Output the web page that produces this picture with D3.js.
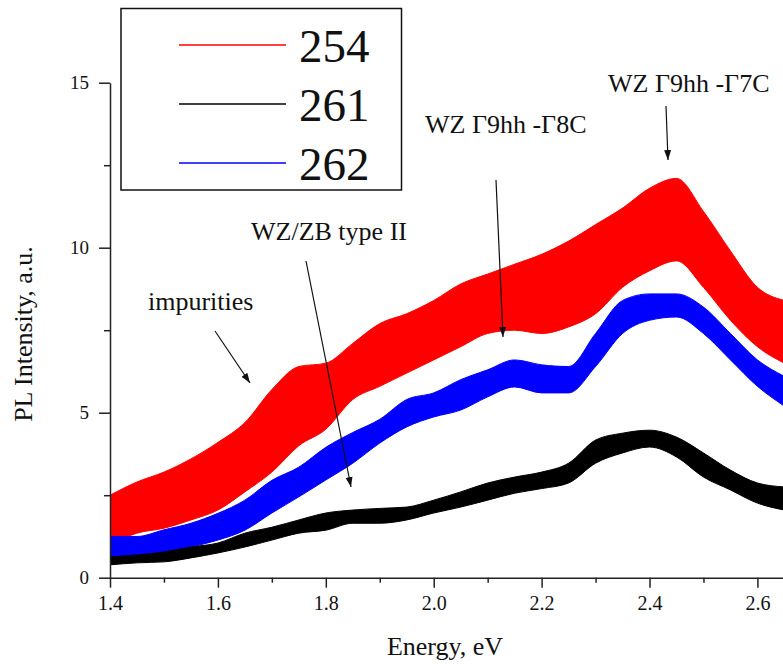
<!DOCTYPE html>
<html>
<head>
  <meta charset="utf-8" />
  <script src="https://cdnjs.cloudflare.com/ajax/libs/d3/7.8.5/d3.min.js"></script>
  <style>
    body { margin: 0; background: #fff; }
    text { font-family: "Liberation Serif", "Times New Roman", serif; fill: #111; }
    .axis path, .axis line { stroke: #222; stroke-width: 1.5; }
    .axis text { font-size: 20px; font-family: "Liberation Serif", serif; }
  </style>
</head>
<body>
  <svg width="783" height="664"></svg>
  <script>
  // energy grid (eV) and the band edges
  const energy = [1.40, 1.45, 1.50, 1.55, 1.60, 1.65, 1.70, 1.75, 1.80, 1.85, 1.90, 1.95, 2.00,
                  2.05, 2.10, 2.15, 2.20, 2.25, 2.30, 2.35, 2.40, 2.45, 2.50, 2.55, 2.60, 2.65];
  const s254High = [2.5, 2.9, 3.2, 3.6, 4.1, 4.7, 5.7, 6.4, 6.5, 7.1, 7.7, 8.0, 8.4,
                    8.9, 9.2, 9.5, 9.8, 10.2, 10.7, 11.2, 11.8, 12.1, 11.1, 9.9, 8.8, 8.4];
  const s254Low  = [1.0, 1.35, 1.5, 1.75, 2.05, 2.6, 3.2, 4.0, 4.5, 5.4, 5.8, 6.2, 6.6,
                    7.0, 7.4, 7.5, 7.4, 7.6, 8.0, 8.8, 9.3, 9.6, 8.8, 7.8, 7.0, 6.5];
  const s262High = [1.25, 1.25, 1.45, 1.65, 1.95, 2.35, 2.95, 3.35, 3.95, 4.4, 4.8, 5.4, 5.6,
                    6.0, 6.3, 6.6, 6.45, 6.4, 7.4, 8.4, 8.6, 8.6, 8.2, 7.4, 6.6, 6.1];
  const s262Low  = [0.55, 0.63, 0.75, 0.93, 1.14, 1.44, 1.96, 2.45, 2.96, 3.47, 4.08, 4.57, 4.87,
                    5.08, 5.48, 5.78, 5.6, 5.6, 6.4, 7.4, 7.8, 7.9, 7.4, 6.6, 5.8, 5.2];
  const s261High = [0.63, 0.69, 0.78, 0.93, 1.05, 1.35, 1.53, 1.75, 1.96, 2.05, 2.1, 2.14, 2.35,
                    2.6, 2.87, 3.05, 3.2, 3.47, 4.17, 4.38, 4.47, 4.26, 3.78, 3.26, 2.87, 2.75];
  const s261Low  = [0.39, 0.45, 0.48, 0.6, 0.75, 0.93, 1.14, 1.35, 1.44, 1.65, 1.65, 1.75, 1.96,
                    2.14, 2.35, 2.56, 2.7, 2.87, 3.47, 3.78, 3.96, 3.66, 3.05, 2.66, 2.26, 2.05];

  const xMajor = [1.4, 1.6, 1.8, 2.0, 2.2, 2.4, 2.6];
  const xMinor = [1.5, 1.7, 1.9, 2.1, 2.3, 2.5];
  const yMajor = [0, 5, 10, 15];
  const yMinor = [2.5, 7.5, 12.5];

  const seriesNames = ["254", "261", "262"];
  const seriesColors = { "254": "#ff0000", "261": "#000000", "262": "#0000ff" };
  const bands = { "254": [s254Low, s254High], "261": [s261Low, s261High], "262": [s262Low, s262High] };
  const drawOrder = ["254", "262", "261"];

  const annotations = [
    { text: "impurities",      x: 148, y: 310 },
    { text: "WZ/ZB type II",   x: 251, y: 240 },
    { text: "WZ  \u03939hh -\u03938C", x: 425, y: 133 },
    { text: "WZ  \u03939hh -\u03937C", x: 608, y: 92 }
  ];
  const arrows = [
    { x1: 215, y1: 331, x2: 250, y2: 383 },
    { x1: 306, y1: 261, x2: 351, y2: 487 },
    { x1: 496, y1: 180, x2: 503, y2: 337 },
    { x1: 666, y1: 106, x2: 668, y2: 160 }
  ];

  const svg = d3.select("svg");
  const x = d3.scaleLinear().domain([1.4, 2.65]).range([110, 784.4]);
  const y = d3.scaleLinear().domain([0, 15]).range([577.7, 82.7]);

  svg.append("defs").append("clipPath").attr("id", "plotclip")
    .append("rect").attr("x", 110).attr("y", 0).attr("width", 673).attr("height", 577.7);

  svg.select("defs").append("marker")
      .attr("id", "head")
      .attr("viewBox", "0 0 10 10")
      .attr("refX", 10).attr("refY", 5)
      .attr("markerWidth", 10).attr("markerHeight", 10)
      .attr("markerUnits", "userSpaceOnUse")
      .attr("orient", "auto")
    .append("path")
      .attr("d", "M0,1.5 L10,5 L0,8.5 Z")
      .attr("fill", "#111");

  // spectra as filled noise bands
  const plot = svg.append("g").attr("clip-path", "url(#plotclip)");
  const area = d3.area()
    .x((d, i) => x(energy[i]))
    .y0(d => y(d[0]))
    .y1(d => y(d[1]))
    .curve(d3.curveMonotoneX);

  drawOrder.forEach(name => {
    const [lo, hi] = bands[name];
    const pts = energy.map((e, i) => [lo[i], hi[i]]);
    plot.append("path")
      .attr("d", area(pts))
      .attr("fill", seriesColors[name])
      .attr("stroke", seriesColors[name])
      .attr("stroke-width", 1);
  });

  // axes
  const xAxis = svg.append("g").attr("class", "axis").attr("transform", "translate(0,577.7)")
    .call(d3.axisBottom(x).tickValues(xMajor).tickSize(10).tickSizeOuter(0).tickFormat(d3.format(".1f")));
  xAxis.selectAll("text").attr("y", 32).attr("dy", null);
  svg.append("g").attr("class", "axis").attr("transform", "translate(0,577.7)")
    .call(d3.axisBottom(x).tickValues(xMinor).tickSize(5).tickSizeOuter(0).tickFormat(""))
    .select(".domain").remove();

  const yAxis = svg.append("g").attr("class", "axis").attr("transform", "translate(110,0)")
    .call(d3.axisLeft(y).tickValues(yMajor).tickSize(11).tickSizeOuter(0).tickPadding(10).tickFormat(d3.format("d")));
  yAxis.selectAll("text").style("font-size", "19px");
  svg.append("g").attr("class", "axis").attr("transform", "translate(110,0)")
    .call(d3.axisLeft(y).tickValues(yMinor).tickSize(6).tickSizeOuter(0).tickFormat(""))
    .select(".domain").remove();

  // axis titles
  svg.append("text")
    .attr("x", 445).attr("y", 655)
    .attr("text-anchor", "middle")
    .style("font-size", "26px")
    .text("Energy, eV");
  svg.append("text")
    .attr("transform", "translate(32,334) rotate(-90)")
    .attr("text-anchor", "middle")
    .style("font-size", "26px")
    .text("PL Intensity, a.u.");

  // annotations with arrows
  svg.selectAll("text.note").data(annotations).enter().append("text")
    .attr("class", "note")
    .attr("x", d => d.x).attr("y", d => d.y)
    .style("font-size", "26px")
    .text(d => d.text);
  svg.selectAll("line.arrow").data(arrows).enter().append("line")
    .attr("class", "arrow")
    .attr("x1", d => d.x1).attr("y1", d => d.y1)
    .attr("x2", d => d.x2).attr("y2", d => d.y2)
    .attr("stroke", "#111").attr("stroke-width", 1.2)
    .attr("marker-end", "url(#head)");

  // legend
  const legend = svg.append("g");
  legend.append("rect")
    .attr("x", 121).attr("y", 8.5).attr("width", 280.5).attr("height", 181.5)
    .attr("fill", "#fff").attr("stroke", "#111").attr("stroke-width", 1.5);
  seriesNames.forEach((name, i) => {
    const ly = 45 + i * 59;
    legend.append("line")
      .attr("x1", 179).attr("x2", 286).attr("y1", ly).attr("y2", ly)
      .attr("stroke", seriesColors[name]).attr("stroke-width", 1.5);
    legend.append("text")
      .attr("x", 299).attr("y", ly + 16.5)
      .style("font-size", "47px")
      .text(name);
  });
  </script>
</body>
</html>
